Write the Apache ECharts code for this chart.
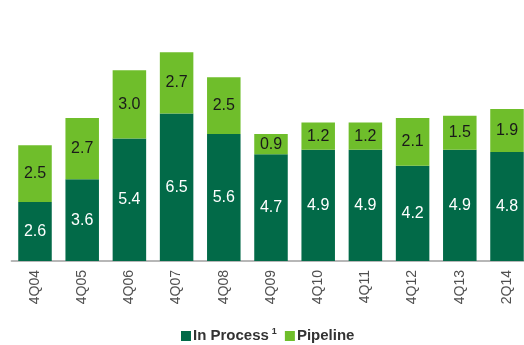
<!DOCTYPE html>
<html>
<head>
<meta charset="utf-8">
<script src="https://cdn.jsdelivr.net/npm/echarts@6/dist/echarts.min.js"></script>
<style>html,body{margin:0;padding:0;background:#fff;overflow:hidden}#c{width:540px;height:345px}</style>
</head>
<body>
<div id="c"></div>
<script>
const categories = ['4Q04','4Q05','4Q06','4Q07','4Q08','4Q09','4Q10','4Q11','4Q12','4Q13','2Q14'];
const inProcess = [2.6, 3.6, 5.4, 6.5, 5.6, 4.7, 4.9, 4.9, 4.2, 4.9, 4.8];
const pipeline = [2.5, 2.7, 3.0, 2.7, 2.5, 0.9, 1.2, 1.2, 2.1, 1.5, 1.9];

const chart = echarts.init(document.getElementById('c'));
const font = 'Liberation Sans, Arial, sans-serif';
chart.setOption({
  animation: false,
  grid: { left: 11.4, top: 34, width: 519.2, height: 227, containLabel: false },
  xAxis: {
    type: 'category', data: categories,
    axisLine: { lineStyle: { color: '#a0a0a0', width: 1.5 } },
    axisTick: { show: false },
    axisLabel: { rotate: 90, fontFamily: font, fontSize: 14, color: '#505050', margin: 9 }
  },
  yAxis: { type: 'value', min: 0, max: 10, show: false, splitLine: { show: false } },
  legend: {
    top: 322, left: 176, itemWidth: 10, itemHeight: 10, itemGap: 8,
    icon: 'rect',
    data: ['In Process', 'Pipeline'],
    formatter: function (n) { return n === 'In Process' ? '{a|In Process}{s|1}' : '{a|Pipeline}'; },
    textStyle: {
      fontFamily: font, fontSize: 15, color: '#333', padding: [0, 0, 0, -3],
      rich: {
        a: { fontFamily: font, fontSize: 15, fontWeight: 'bold', color: '#333' },
        s: { fontFamily: font, fontSize: 9, fontWeight: 'bold', color: '#333', verticalAlign: 'top', padding: [0, 0, 9, 3] }
      }
    }
  },
  series: [
    {
      name: 'In Process', type: 'bar', stack: 't', data: inProcess,
      barCategoryGap: '29%',
      itemStyle: { color: '#026a48' },
      label: { show: true, position: 'inside', color: '#fff', fontFamily: font, fontSize: 16,
        formatter: p => p.value.toFixed(1) }
    },
    {
      name: 'Pipeline', type: 'bar', stack: 't', data: pipeline,
      itemStyle: { color: '#6fbe2b' },
      label: { show: true, position: 'inside', color: '#1a1a1a', fontFamily: font, fontSize: 16,
        formatter: p => p.value.toFixed(1) }
    }
  ]
});
</script>
</body>
</html>
